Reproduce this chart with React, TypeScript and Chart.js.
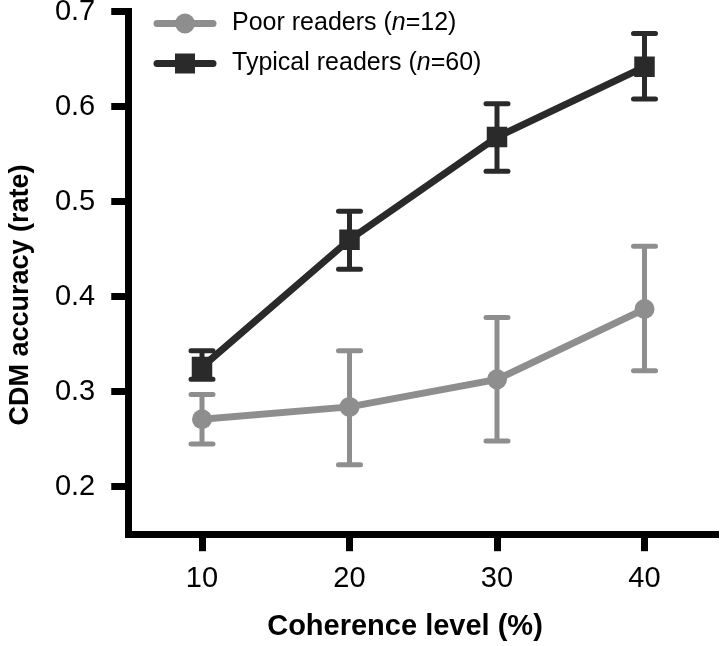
import React, { useEffect, useRef } from "react";
import { Chart, registerables } from "chart.js";

Chart.register(...registerables);

// ---- data ----
const coherence = [10, 20, 30, 40];
const poorMean = [0.271, 0.284, 0.313, 0.387];
const poorHigh = [0.297, 0.343, 0.378, 0.453];
const poorLow = [0.245, 0.223, 0.248, 0.322];
const typicalMean = [0.326, 0.46, 0.568, 0.642];
const typicalHigh = [0.343, 0.49, 0.603, 0.677];
const typicalLow = [0.313, 0.429, 0.532, 0.608];
const xTicks = [10, 20, 30, 40];
const yTicks = [0.2, 0.3, 0.4, 0.5, 0.6, 0.7];
const seriesNames = ["Poor readers", "Typical readers"];
const groupSizes = [12, 60];
const xTitle = "Coherence level (%)";
const yTitle = "CDM accuracy (rate)";

const FONT = "'Liberation Sans', Arial, Helvetica, sans-serif";
const POOR_COLOR = "#8e8e8e";
const TYP_COLOR = "#2a2a2a";

const errorBars = {
  id: "errorBars",
  beforeDatasetsDraw(chart: any) {
    const ctx = chart.ctx;
    const xs = chart.scales.x;
    const ys = chart.scales.y;
    chart.data.datasets.forEach((ds: any) => {
      ctx.save();
      ctx.strokeStyle = ds.borderColor;
      ctx.lineWidth = 5;
      ctx.lineCap = "round";
      ds.data.forEach((p: any, j: number) => {
        const x = xs.getPixelForValue(p.x);
        const yh = ys.getPixelForValue(ds.errHigh[j]);
        const yl = ys.getPixelForValue(ds.errLow[j]);
        ctx.beginPath();
        ctx.moveTo(x, yh);
        ctx.lineTo(x, yl);
        ctx.moveTo(x - 11, yh);
        ctx.lineTo(x + 11, yh);
        ctx.moveTo(x - 11, yl);
        ctx.lineTo(x + 11, yl);
        ctx.stroke();
      });
      ctx.restore();
    });
  },
};

const decorations = {
  id: "decorations",
  afterDraw(chart: any) {
    const ctx = chart.ctx;
    ctx.save();
    // legend
    chart.data.datasets.forEach((ds: any, i: number) => {
      const y = 23.5 + 40 * i;
      ctx.strokeStyle = ds.borderColor;
      ctx.fillStyle = ds.borderColor;
      ctx.lineWidth = 7;
      ctx.lineCap = "round";
      ctx.beginPath();
      ctx.moveTo(157, y);
      ctx.lineTo(213, y);
      ctx.stroke();
      if (ds.pointStyle === "circle") {
        ctx.beginPath();
        ctx.arc(185, y, 10, 0, Math.PI * 2);
        ctx.fill();
      } else {
        ctx.fillRect(175, y - 10, 20, 20);
      }
      ctx.fillStyle = "#000";
      ctx.textBaseline = "middle";
      ctx.textAlign = "left";
      const parts: [string, string][] = [
        [seriesNames[i] + " (", ""],
        ["n", "italic "],
        ["=" + groupSizes[i] + ")", ""],
      ];
      let x = 232;
      parts.forEach(([t, st]) => {
        ctx.font = `${st}25px ${FONT}`;
        ctx.fillText(t, x, y);
        x += ctx.measureText(t).width;
      });
    });
    // axis titles
    ctx.fillStyle = "#000";
    ctx.font = `bold 29px ${FONT}`;
    ctx.textAlign = "center";
    ctx.textBaseline = "middle";
    ctx.fillText(xTitle, 405, 627);
    ctx.translate(21, 295);
    ctx.rotate(-Math.PI / 2);
    ctx.font = `bold 27px ${FONT}`;
    ctx.fillText(yTitle, 0, 0);
    ctx.restore();
  },
};

export default function App() {
  const ref = useRef<HTMLCanvasElement | null>(null);
  useEffect(() => {
    if (!ref.current) return;
    const chart = new Chart(ref.current, {
      type: "line",
      data: {
        datasets: [
          {
            label: seriesNames[0],
            data: coherence.map((c, i) => ({ x: c, y: poorMean[i] })),
            borderColor: POOR_COLOR,
            backgroundColor: POOR_COLOR,
            borderWidth: 7,
            pointStyle: "circle",
            pointRadius: 10,
            pointBorderWidth: 0,
            pointBackgroundColor: POOR_COLOR,
            errHigh: poorHigh,
            errLow: poorLow,
          } as any,
          {
            label: seriesNames[1],
            data: coherence.map((c, i) => ({ x: c, y: typicalMean[i] })),
            borderColor: TYP_COLOR,
            backgroundColor: TYP_COLOR,
            borderWidth: 7,
            pointStyle: "rect",
            pointRadius: 14.5,
            pointBorderWidth: 0,
            pointBackgroundColor: TYP_COLOR,
            errHigh: typicalHigh,
            errLow: typicalLow,
          } as any,
        ],
      },
      options: {
        animation: false,
        responsive: false,
        layout: { autoPadding: false, padding: { top: 11.7, right: 3.75, bottom: 0, left: 0 } },
        plugins: { legend: { display: false }, tooltip: { enabled: false } },
        scales: {
          x: {
            type: "linear",
            min: 5,
            max: 45,
            afterBuildTicks: (s: any) => {
              s.ticks = xTicks.map((v) => ({ value: v }));
            },
            afterFit: (s: any) => {
              s.height = 646 - 534.2;
              s.paddingLeft = 0;
              s.paddingRight = 0;
            },
            grid: {
              drawOnChartArea: false,
              drawTicks: true,
              tickLength: 17,
              tickWidth: 7,
              tickColor: "#000",
            },
            border: { display: true, width: 7, color: "#000" },
            ticks: {
              color: "#000",
              padding: 10,
              font: { family: FONT, size: 29 },
              callback: (v: any) => String(v),
            },
          },
          y: {
            type: "linear",
            min: 0.15,
            max: 0.7,
            afterBuildTicks: (s: any) => {
              s.ticks = yTicks.map((v) => ({ value: v }));
            },
            afterFit: (s: any) => {
              s.width = 128.25;
              s.paddingTop = 0;
              s.paddingBottom = 0;
            },
            grid: {
              drawOnChartArea: false,
              drawTicks: true,
              tickLength: 17,
              tickWidth: 7,
              tickColor: "#000",
            },
            border: { display: true, width: 7, color: "#000" },
            ticks: {
              color: "#000",
              padding: 16,
              font: { family: FONT, size: 29 },
              callback: (v: any) => Number(v).toFixed(1),
            },
          },
        },
      } as any,
      plugins: [errorBars, decorations],
    });
    return () => chart.destroy();
  }, []);
  return (
    <div style={{ position: "fixed", left: 0, top: 0, width: 722, height: 646, background: "#fff" }}>
      <canvas ref={ref} width={722} height={646} style={{ display: "block" }} />
    </div>
  );
}
